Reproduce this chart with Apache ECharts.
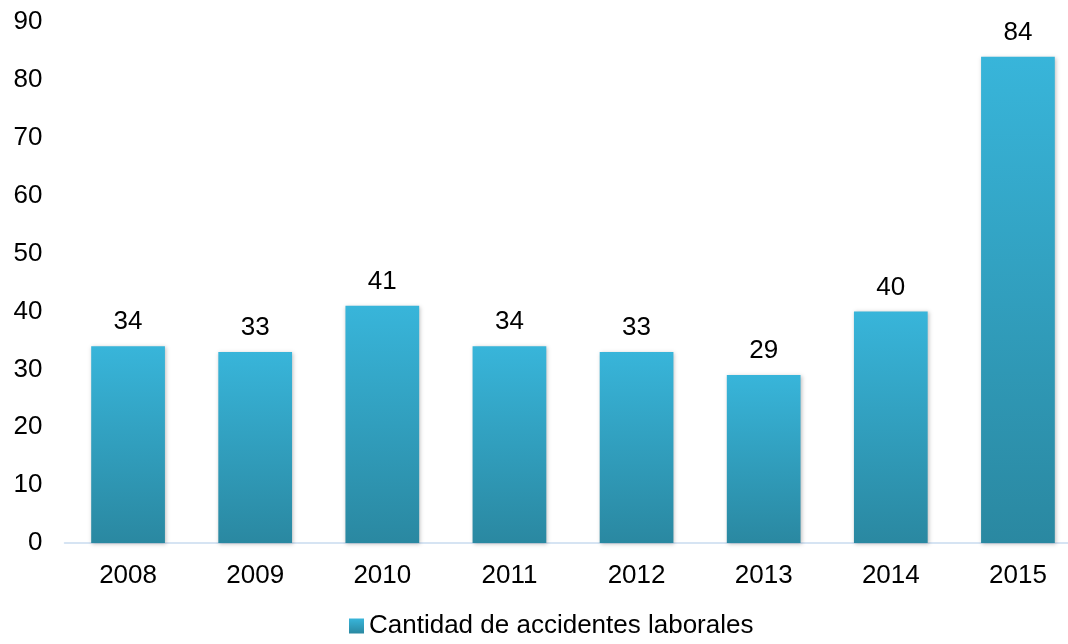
<!DOCTYPE html>
<html><head><meta charset="utf-8">
<script src="https://cdn.jsdelivr.net/npm/echarts@6/dist/echarts.min.js"></script>
<style>html,body{margin:0;padding:0;background:#fff;overflow:hidden;width:1068px;height:644px}#c{width:1082px;height:644px}</style>
</head><body><div id="c"></div>
<script>
const categories = ['2008','2009','2010','2011','2012','2013','2014','2015'];
const values = [34, 33, 41, 34, 33, 29, 40, 84];
const seriesName = 'Cantidad de accidentes laborales';
const yTicks = [0,10,20,30,40,50,60,70,80,90];

const FONT = 'Liberation Sans, Arial, sans-serif';
const mkGrad = () => new echarts.graphic.LinearGradient(0,0,0,1,[
  {offset:0,color:'#38b5da'},{offset:1,color:'#2a88a1'}]);
const chart = echarts.init(document.getElementById('c'));
chart.setOption({
  animation:false,
  textStyle:{fontFamily:FONT},
  grid:{left:64.5,right:0.5,top:22,bottom:101,containLabel:false},
  legend:{bottom:0,left:344,itemWidth:15,itemHeight:15,itemGap:5,icon:'rect',
    textStyle:{fontSize:26,color:'#000',fontFamily:FONT},
    data:[{name:seriesName,itemStyle:{color:mkGrad()}}]},
  xAxis:{type:'category',data:categories,
    axisLine:{lineStyle:{color:'#c9dbef',width:1.5}},axisTick:{show:false},
    axisLabel:{color:'#000',fontSize:26,margin:20,fontFamily:FONT}},
  yAxis:{type:'value',min:yTicks[0],max:yTicks[yTicks.length-1],interval:10,
    splitLine:{show:false},axisLine:{show:false},axisTick:{show:false},
    axisLabel:{color:'#000',fontSize:26,margin:22,fontFamily:FONT}},
  series:[{name:seriesName,type:'bar',data:values,barWidth:'58%',
    itemStyle:{color:mkGrad(),shadowColor:'rgba(0,0,0,0.25)',shadowBlur:4,shadowOffsetX:1,shadowOffsetY:1},
    label:{show:true,position:'top',distance:11,color:'#000',fontSize:26,fontFamily:FONT}}]
});
</script></body></html>
